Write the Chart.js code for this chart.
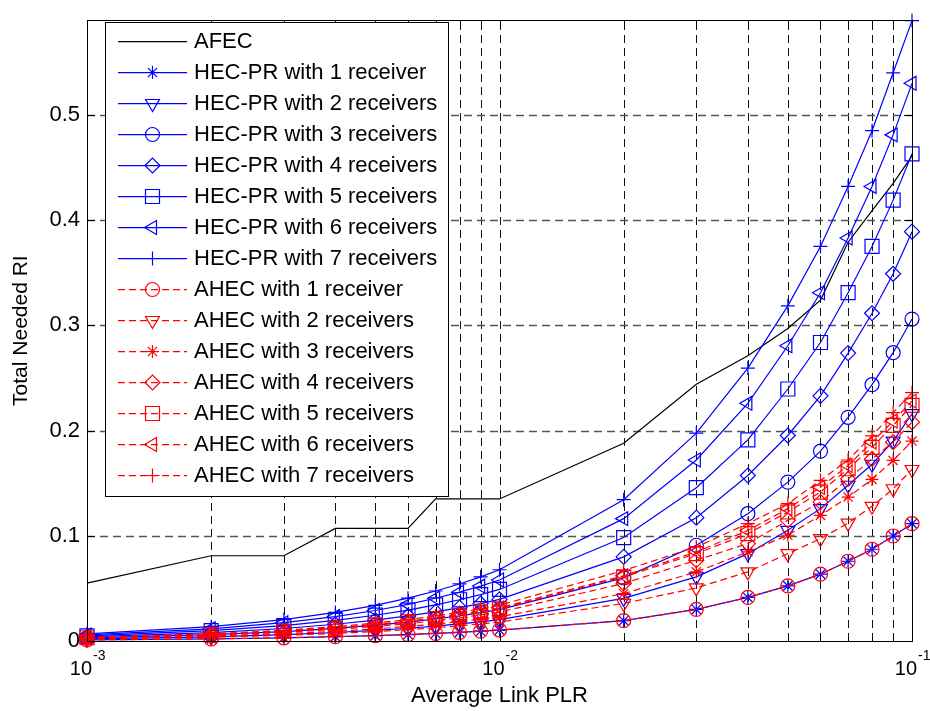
<!DOCTYPE html>
<html><head><meta charset="utf-8">
<script src="https://cdn.jsdelivr.net/npm/chart.js"></script>
<style>html,body{margin:0;padding:0;background:#fff;}canvas{display:block;}</style>
</head><body>
<canvas id="c" width="930" height="711"></canvas>
<script>
// ---------------- data ----------------
const plr = [0.001,0.002,0.003,0.004,0.005,0.006,0.007,0.008,0.009,0.01,0.02,0.03,0.04,0.05,0.06,0.07,0.08,0.09,0.1];
const xDecadeTicks = [0.001, 0.01, 0.1];
const xDecadeLabels = [["10","-3"],["10","-2"],["10","-1"]];
const yTicks = [0,0.1,0.2,0.3,0.4,0.5];
const yTickLabels = ["0","0.1","0.2","0.3","0.4","0.5"];

const afec  = [0.055,0.081,0.081,0.107,0.107,0.107,0.135,0.135,0.135,0.135,0.188,0.244,0.271,0.297,0.324,0.379,0.409,0.435,0.461];

const hec1 = [0.0010,0.0020,0.0030,0.0041,0.0051,0.0061,0.0072,0.0082,0.0093,0.0104,0.0193,0.0300,0.0414,0.0524,0.0635,0.0758,0.0872,0.0998,0.1115];
const hec2 = [0.0020,0.0040,0.0061,0.0081,0.0101,0.0121,0.0142,0.0162,0.0182,0.0203,0.0405,0.0610,0.0830,0.1052,0.1258,0.1480,0.1680,0.1900,0.2160];
const hec3 = [0.0030,0.0060,0.0090,0.0120,0.0150,0.0179,0.0209,0.0239,0.0269,0.0299,0.0600,0.0910,0.1210,0.1510,0.1804,0.2126,0.2436,0.2740,0.3060];
const hec4 = [0.0040,0.0080,0.0119,0.0159,0.0198,0.0238,0.0277,0.0317,0.0356,0.0395,0.0800,0.1172,0.1573,0.1953,0.2330,0.2736,0.3115,0.3490,0.3890];
const hec5 = [0.0049,0.0098,0.0147,0.0196,0.0245,0.0294,0.0343,0.0392,0.0441,0.0490,0.0983,0.1457,0.1912,0.2395,0.2837,0.3310,0.3750,0.4190,0.4630];
const hec6 = [0.0058,0.0116,0.0174,0.0232,0.0290,0.0348,0.0406,0.0464,0.0522,0.0580,0.1163,0.1720,0.2259,0.2806,0.3310,0.3830,0.4320,0.4810,0.5300];
const hec7 = [0.0068,0.0136,0.0204,0.0272,0.0339,0.0407,0.0475,0.0542,0.0610,0.0677,0.1343,0.1975,0.2594,0.3185,0.3750,0.4320,0.4850,0.5400,0.5896];

const ahec1 = [0.0010,0.0020,0.0030,0.0041,0.0051,0.0061,0.0072,0.0082,0.0093,0.0104,0.0193,0.0300,0.0414,0.0524,0.0635,0.0758,0.0872,0.0998,0.1115];
const ahec2 = [0.0018,0.0036,0.0054,0.0072,0.0090,0.0108,0.0126,0.0144,0.0162,0.0180,0.0357,0.0505,0.0657,0.0830,0.0973,0.1120,0.1280,0.1447,0.1630];
const ahec3 = [0.0023,0.0046,0.0069,0.0092,0.0115,0.0138,0.0161,0.0184,0.0207,0.0230,0.0450,0.0657,0.0847,0.1005,0.1194,0.1368,0.1536,0.1716,0.1900];
const ahec4 = [0.0028,0.0055,0.0083,0.0110,0.0138,0.0165,0.0193,0.0220,0.0248,0.0275,0.0547,0.0768,0.0926,0.1147,0.1320,0.1540,0.1730,0.1890,0.2080];
const ahec5 = [0.0031,0.0061,0.0092,0.0122,0.0153,0.0183,0.0214,0.0244,0.0275,0.0305,0.0610,0.0830,0.1020,0.1226,0.1415,0.1637,0.1840,0.2050,0.2240];
const ahec6 = [0.0032,0.0063,0.0095,0.0126,0.0158,0.0189,0.0221,0.0252,0.0284,0.0315,0.0620,0.0847,0.1050,0.1258,0.1460,0.1668,0.1890,0.2090,0.2280];
const ahec7 = [0.0034,0.0068,0.0102,0.0136,0.0170,0.0204,0.0238,0.0272,0.0306,0.0340,0.0670,0.0894,0.1115,0.1305,0.1526,0.1720,0.1950,0.2170,0.2360];

const seriesNames = ["AFEC",
 "HEC-PR with 1 receiver","HEC-PR with 2 receivers","HEC-PR with 3 receivers","HEC-PR with 4 receivers",
 "HEC-PR with 5 receivers","HEC-PR with 6 receivers","HEC-PR with 7 receivers",
 "AHEC with 1 receiver","AHEC with 2 receivers","AHEC with 3 receivers","AHEC with 4 receivers",
 "AHEC with 5 receivers","AHEC with 6 receivers","AHEC with 7 receivers"];
const seriesValues = [afec,hec1,hec2,hec3,hec4,hec5,hec6,hec7,ahec1,ahec2,ahec3,ahec4,ahec5,ahec6,ahec7];

const xTitle = "Average Link PLR";
const yTitle = "Total Needed RI";

// ---------------- styles ----------------
const BLUE = 'rgb(0,0,255)', RED = 'rgb(255,0,0)', BLACK = 'rgb(0,0,0)';
const M = {
  none:  {style:false, r:0, rot:0},
  star:  {style:'star', r:6.5, rot:0},
  tdown: {style:'triangle', r:8, rot:180},
  circ:  {style:'circle', r:7, rot:0},
  diam:  {style:'rectRot', r:7.5, rot:0},
  sq:    {style:'rect', r:9.9, rot:0},
  tleft: {style:'triangle', r:8, rot:270},
  plus:  {style:'cross', r:7, rot:0}
};
const DASH = [7,4];
const LW = 1.2;
const styleTable = [
  {c:BLACK, m:M.none, dash:[]},
  {c:BLUE, m:M.star, dash:[]},{c:BLUE, m:M.tdown, dash:[]},{c:BLUE, m:M.circ, dash:[]},{c:BLUE, m:M.diam, dash:[]},
  {c:BLUE, m:M.sq, dash:[]},{c:BLUE, m:M.tleft, dash:[]},{c:BLUE, m:M.plus, dash:[]},
  {c:RED, m:M.circ, dash:DASH},{c:RED, m:M.tdown, dash:DASH},{c:RED, m:M.star, dash:DASH},{c:RED, m:M.diam, dash:DASH},
  {c:RED, m:M.sq, dash:DASH},{c:RED, m:M.tleft, dash:DASH},{c:RED, m:M.plus, dash:DASH}
];

const FONT = "'Liberation Sans', Arial, Helvetica, sans-serif";

const datasets = seriesValues.map((vals, i) => {
  const s = styleTable[i];
  return {
    label: seriesNames[i],
    data: vals.map((v, k) => ({x: plr[k], y: v})),
    borderColor: s.c,
    borderWidth: LW,
    borderDash: s.dash,
    fill: false,
    tension: 0,
    pointStyle: s.m.style || 'circle',
    pointRadius: s.m.r,
    pointHoverRadius: s.m.r,
    pointRotation: s.m.rot,
    pointBorderColor: s.c,
    pointBackgroundColor: 'rgba(0,0,0,0)',
    pointBorderWidth: LW,
    clip: false,
    order: seriesValues.length - i
  };
});

function drawMarker(ctx, m, color, x, y) {
  if (!m.style) return;
  ctx.save();
  ctx.setLineDash([]);
  ctx.strokeStyle = color;
  ctx.fillStyle = 'rgba(0,0,0,0)';
  ctx.lineWidth = LW;
  if (Chart.helpers && Chart.helpers.drawPoint) {
    Chart.helpers.drawPoint(ctx, {pointStyle: m.style, rotation: m.rot, radius: m.r, borderWidth: LW}, x, y);
  }
  ctx.restore();
}

const frame = {
  id: 'frame',
  beforeDatasetsDraw(chart) {
    const {ctx, chartArea: a, scales: {x, y}} = chart;
    ctx.save();
    ctx.beginPath(); ctx.rect(a.left, a.top, a.right - a.left, a.bottom - a.top); ctx.clip();
    ctx.lineWidth = 1;
    ctx.setLineDash([8, 5]);
    ctx.strokeStyle = '#111';
    plr.forEach(v => {
      if (v <= x.min || v >= x.max) return;
      const px = Math.round(x.getPixelForValue(v)) + 0.5;
      ctx.beginPath(); ctx.moveTo(px, a.bottom); ctx.lineTo(px, a.top); ctx.stroke();
    });
    ctx.strokeStyle = '#555';
    ctx.lineWidth = 1.3;
    yTicks.forEach(v => {
      if (v <= 0) return;
      const py = Math.round(y.getPixelForValue(v)) + 0.5;
      ctx.beginPath(); ctx.moveTo(a.left, py); ctx.lineTo(a.right, py); ctx.stroke();
    });
    ctx.restore();
  },
  afterDatasetsDraw(chart) {
    const {ctx, chartArea: a, scales: {x, y}} = chart;
    ctx.save();
    ctx.setLineDash([]);
    ctx.strokeStyle = '#000';
    ctx.lineWidth = 1;
    ctx.beginPath();
    yTicks.forEach(v => {
      const py = Math.round(y.getPixelForValue(v)) + 0.5;
      ctx.moveTo(a.left, py); ctx.lineTo(a.left + 8, py);
      ctx.moveTo(a.right, py); ctx.lineTo(a.right - 8, py);
    });
    plr.forEach(v => {
      const px = Math.round(x.getPixelForValue(v)) + 0.5;
      const len = xDecadeTicks.includes(v) ? 8 : 4;
      ctx.moveTo(px, a.bottom); ctx.lineTo(px, a.bottom - len);
      ctx.moveTo(px, a.top); ctx.lineTo(px, a.top + len);
    });
    ctx.stroke();
    ctx.strokeRect(Math.round(a.left) + 0.5, Math.round(a.top) + 0.5, Math.round(a.right - a.left), Math.round(a.bottom - a.top));
    ctx.fillStyle = '#000';
    ctx.textBaseline = 'alphabetic';
    xDecadeTicks.forEach((v, i) => {
      const px = x.getPixelForValue(v);
      ctx.font = '20px ' + FONT;
      ctx.textAlign = 'right';
      ctx.fillText(xDecadeLabels[i][0], px + 5, 675);
      ctx.font = '14px ' + FONT;
      ctx.textAlign = 'left';
      ctx.fillText(xDecadeLabels[i][1], px + 6, 660);
    });
    ctx.restore();

    // legend
    const L = {x: 105, y: 22, w: 343, h: 474, row: 31, first: 41, lx1: 118, lx2: 187, mx: 152.5, tx: 194};
    ctx.save();
    ctx.setLineDash([]);
    ctx.fillStyle = '#fff';
    ctx.fillRect(L.x, L.y, L.w, L.h);
    ctx.strokeStyle = '#000';
    ctx.lineWidth = 1;
    ctx.strokeRect(L.x + 0.5, L.y + 0.5, L.w, L.h);
    ctx.restore();
    seriesNames.forEach((name, i) => {
      const s = styleTable[i];
      const yy = L.first + i * L.row + 0.5;
      ctx.save();
      ctx.globalAlpha = 1;
      ctx.lineCap = 'butt';
      ctx.lineWidth = 1.25;
      ctx.setLineDash(s.dash.slice());
      ctx.strokeStyle = s.c;
      ctx.beginPath(); ctx.moveTo(L.lx1, yy); ctx.lineTo(L.lx2, yy); ctx.stroke();
      ctx.restore();
      drawMarker(ctx, s.m, s.c, L.mx, yy);
      ctx.save();
      ctx.fillStyle = '#000';
      ctx.font = '22px ' + FONT;
      ctx.textAlign = 'left';
      ctx.textBaseline = 'middle';
      ctx.fillText(name, L.tx, yy);
      ctx.restore();
    });
  }
};

new Chart(document.getElementById('c'), {
  type: 'line',
  data: {datasets},
  plugins: [frame],
  options: {
    responsive: false,
    animation: false,
    events: [],
    layout: {padding: {left: 0, right: 18, top: 18, bottom: 0}},
    plugins: {legend: {display: false}, tooltip: {enabled: false}},
    scales: {
      x: {
        type: 'logarithmic', min: 0.001, max: 0.1,
        grid: {display: false, drawTicks: false}, border: {display: false},
        ticks: {display: false},
        afterBuildTicks: s => { s.ticks = plr.map(v => ({value: v})); },
        afterFit: s => { s.height = 70; },
        title: {display: true, text: xTitle, color: '#000', font: {size: 22, family: FONT}, padding: {top: 0, bottom: 2}}
      },
      y: {
        type: 'linear', min: 0, max: 0.59,
        grid: {display: false, drawTicks: false}, border: {display: false},
        afterBuildTicks: s => { s.ticks = yTicks.map(v => ({value: v})); },
        ticks: {color: '#000', font: {size: 22, family: FONT}, padding: 7,
                callback: (v, i) => yTickLabels[i]},
        afterFit: s => { s.width = 87; },
        title: {display: true, text: yTitle, color: '#000', font: {size: 21, family: FONT}, padding: {top: 9, bottom: 0}}
      }
    }
  }
});
</script>
</body></html>
